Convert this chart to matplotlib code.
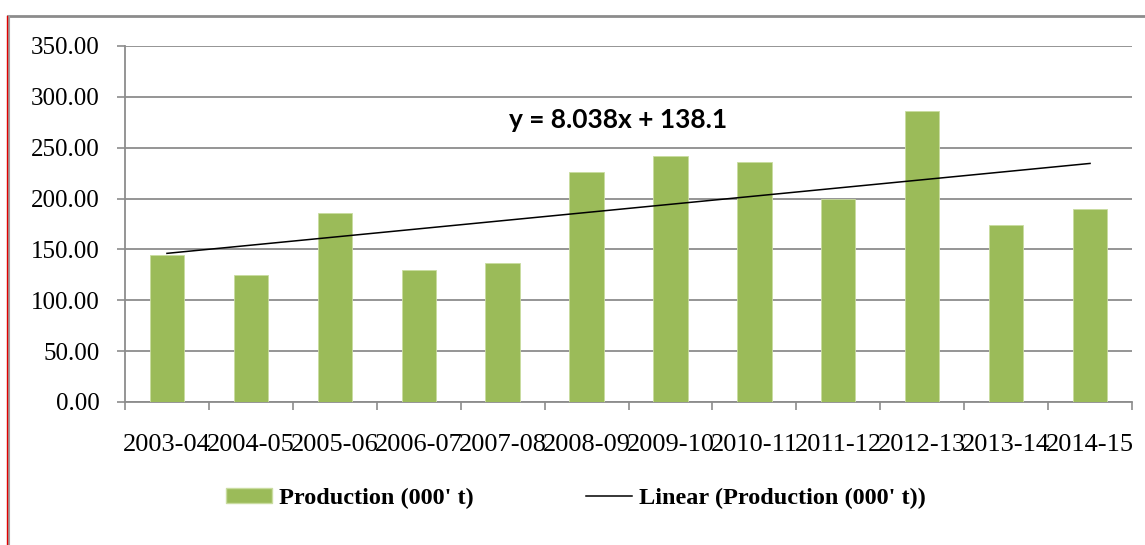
import matplotlib.pyplot as plt
from matplotlib.lines import Line2D
from matplotlib.patches import Patch
import numpy as np

# Production per year (000' t)
years = ['2003-04', '2004-05', '2005-06', '2006-07', '2007-08', '2008-09',
         '2009-10', '2010-11', '2011-12', '2012-13', '2013-14', '2014-15']
production = [145, 125, 186, 130, 136.5, 226, 242, 236, 200, 286, 174, 190]

# linear trend as reported by Excel
slope = 8.038
intercept = 138.1

bar_color = '#9BBB59'
grid_color = '#8c8c8c'

fig = plt.figure(figsize=(11.45, 5.45), dpi=100)
ax = fig.add_axes([125 / 1145, 1 - 402 / 545, (1132 - 125) / 1145, (402 - 46) / 545])

x = np.arange(len(years))
ax.bar(x, production, width=0.41, color=bar_color, edgecolor='#c9dca0', linewidth=0.6, zorder=3)

trend_x = x + 1
trend_y = slope * trend_x + intercept
ax.plot(x, trend_y, color='black', linewidth=1.1, zorder=4)

ax.text(5.38, 277, 'y = 8.038x + 138.1', fontsize=19, fontweight='bold',
        family='Lato', ha='center', va='center', zorder=5)

ax.set_xlim(-0.5, len(years) - 0.5)
ax.set_ylim(0, 350)

ax.set_yticks(np.arange(0, 351, 50))
ax.set_yticklabels(['%.2f' % v for v in np.arange(0, 351, 50)],
                   family='Liberation Serif', fontsize=18)
ax.yaxis.grid(True, color=grid_color, linewidth=1.3, zorder=0)

# category boundaries get the tick marks, labels sit under the bars
ax.set_xticks(np.arange(-0.5, len(years), 1))
ax.set_xticklabels([])
ax.set_xticks(x, minor=True)
ax.set_xticklabels(years, minor=True, family='Liberation Serif', fontsize=19)
ax.tick_params(axis='x', which='major', direction='out', length=6, color=grid_color, width=1.2)
ax.tick_params(axis='x', which='minor', length=0, pad=23)
ax.tick_params(axis='y', direction='out', length=6, color=grid_color, width=1.2, pad=12)

for side in ['top', 'right']:
    ax.spines[side].set_visible(False)
for side in ['left', 'bottom']:
    ax.spines[side].set_color(grid_color)
    ax.spines[side].set_linewidth(1.3)

handles = [Patch(facecolor=bar_color, edgecolor='#c9dca0'),
           Line2D([0], [0], color='black', linewidth=1.1)]
labels = ["Production (000' t)", "Linear (Production (000' t))"]
fig.legend(handles, labels, loc='center', bbox_to_anchor=(0.503, 0.085), ncol=2,
           frameon=False, handlelength=1.9, handleheight=0.55, handletextpad=0.3,
           columnspacing=4.6, prop={'family': 'Liberation Serif', 'weight': 'bold', 'size': 17.5})

# outer chart frame
fig.add_artist(Line2D([8 / 1145, 1], [1 - 16 / 545, 1 - 16 / 545], color='#8c8c8c',
                      linewidth=2, transform=fig.transFigure))
fig.add_artist(Line2D([8.5 / 1145, 8.5 / 1145], [0, 1 - 16 / 545], color='#a0a0a0',
                      linewidth=1.5, transform=fig.transFigure))
fig.add_artist(Line2D([7 / 1145, 7 / 1145], [0, 1 - 16 / 545], color='#e00000',
                      linewidth=1, transform=fig.transFigure))

fig.savefig('out.png', dpi=100)
